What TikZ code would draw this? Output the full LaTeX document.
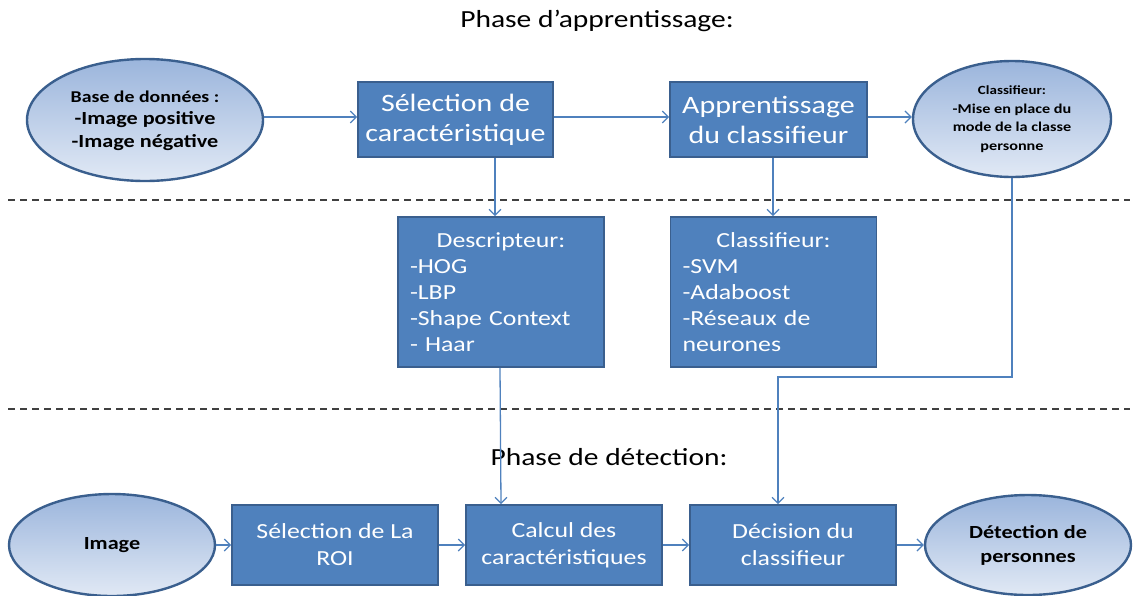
\documentclass[tikz,border=0pt]{standalone}
\usepackage{fontspec}
\setmainfont{Carlito}[FakeStretch=1.2]
\usetikzlibrary{shapes.geometric,arrows.meta,calc}
\definecolor{boxblue}{HTML}{4F81BD}
\definecolor{boxedge}{HTML}{3A5F8E}
\definecolor{elltop}{HTML}{9BB5DC}
\definecolor{ellbot}{HTML}{E1E9F5}
\definecolor{dashgray}{HTML}{404040}
\tikzset{
  bluebox/.style={draw=boxedge, line width=1.8pt, fill=boxblue, text=white, inner sep=0pt,
    font=\fontsize{25}{30}\selectfont, align=center},
  lowbox/.style={bluebox, font=\fontsize{21.5}{27}\selectfont, minimum height=80pt},
  listbox/.style={draw=boxedge, line width=1.8pt, fill=boxblue, text=white, inner sep=0pt,
    font=\fontsize{21.5}{26}\selectfont, align=left, text width=182pt,
    minimum width=206pt, minimum height=150pt},
  oval/.style={ellipse, draw=boxedge, line width=2.4pt, top color=elltop, bottom color=ellbot,
    inner sep=0pt, text=black},
  arr/.style={draw=boxblue, line width=1.3pt, -{Straight Barb[length=6pt,width=12pt,line width=1.2pt]}},
  sep/.style={draw=dashgray, line width=1.4pt, dash pattern=on 7pt off 5pt},
  title/.style={font=\fontsize{24.6}{28}\selectfont, text=black}
}
\begin{document}
\begin{tikzpicture}[x=1pt,y=-1pt]
\useasboundingbox (0,0) rectangle (1140,595);

% titles
\node[title] (t1) at (597,21) {Phase d’apprentissage:};
\node[title] (t2) at (609,457) {Phase de détection:};

% separators
\coordinate (s1a) at (8,200); \coordinate (s1b) at (1130,200);
\coordinate (s2a) at (8,409); \coordinate (s2b) at (1130,409);
\draw[sep] (s1a) -- (s1b);
\draw[sep] (s2a) -- (s2b);

% learning phase
\node[oval, minimum width=236pt, minimum height=122pt,
      font=\fontsize{18.5}{22.5}\selectfont\bfseries] (db) at (145,120)
  {\begin{tabular}{@{}c@{}}
   {\fontsize{16.5}{20}\selectfont Base de données :}\\
   -Image positive\\
   -Image négative
   \end{tabular}};
\node[bluebox, minimum width=195pt, minimum height=75pt] (sel) at (455.5,119.5)
  {Sélection de\\caractéristique};
\node[bluebox, minimum width=197pt, minimum height=75pt] (app) at (768.5,119.5)
  {Apprentissage\\du classifieur};
\node[oval, minimum width=198pt, minimum height=116pt,
      font=\fontsize{13.5}{18.5}\selectfont\bfseries] (cls) at (1012,119)
  {\begin{tabular}{@{}c@{}}
   {\fontsize{12.5}{18}\selectfont Classifieur:}\\
   -Mise en place du\\
   mode de la classe\\
   personne
   \end{tabular}};

\node[listbox] (desc) at (501,292)
  {\makebox[\linewidth][c]{Descripteur:}\\-HOG\\-LBP\\-Shape Context\\- Haar};
\node[listbox] (clf) at (773.5,292)
  {\makebox[\linewidth][c]{Classifieur:}\\-SVM\\-Adaboost\\-Réseaux de\\neurones};

% detection phase
\node[oval, minimum width=206pt, minimum height=102pt,
      font=\fontsize{18.5}{21}\selectfont\bfseries] (img) at (112,545) {Image};
\node[lowbox, minimum width=206pt] (roi) at (335,545) {Sélection de La\\ROI};
\node[lowbox, minimum width=196pt] (calc) at (564,545) {Calcul des\\caractéristiques};
\node[lowbox, minimum width=206pt] (dec) at (793,545) {Décision du\\classifieur};
\node[oval, minimum width=206pt, minimum height=100pt, align=center,
      font=\fontsize{18.5}{24}\selectfont\bfseries] (det) at (1028,545)
  {Détection de\\personnes};

% connectors
\draw[arr] (db.east |- 0,117) -- (sel.west |- 0,117);
\draw[arr] (sel.east |- 0,117) -- (app.west |- 0,117);
\draw[arr] (app.east |- 0,117) -- (cls.west |- 0,117);
\draw[arr] ([xshift=39.5pt]sel.south) -- ([xshift=-6pt]desc.north);
\draw[arr] ([xshift=4.5pt]app.south) -- ([xshift=-0.5pt]clf.north);
\draw[arr] ([xshift=-1pt]desc.south) -- (calc.north -| desc.south);
\coordinate (c1) at (1012,377);
\coordinate (c2) at (778,377);
\draw[arr] (cls.south) -- (c1) -- (c2) -- (dec.north -| c2);
\draw[arr] (img.east) -- (roi.west);
\draw[arr] (roi.east) -- (calc.west);
\draw[arr] (calc.east) -- (dec.west);
\draw[arr] (dec.east) -- (det.west);
\end{tikzpicture}
\end{document}
